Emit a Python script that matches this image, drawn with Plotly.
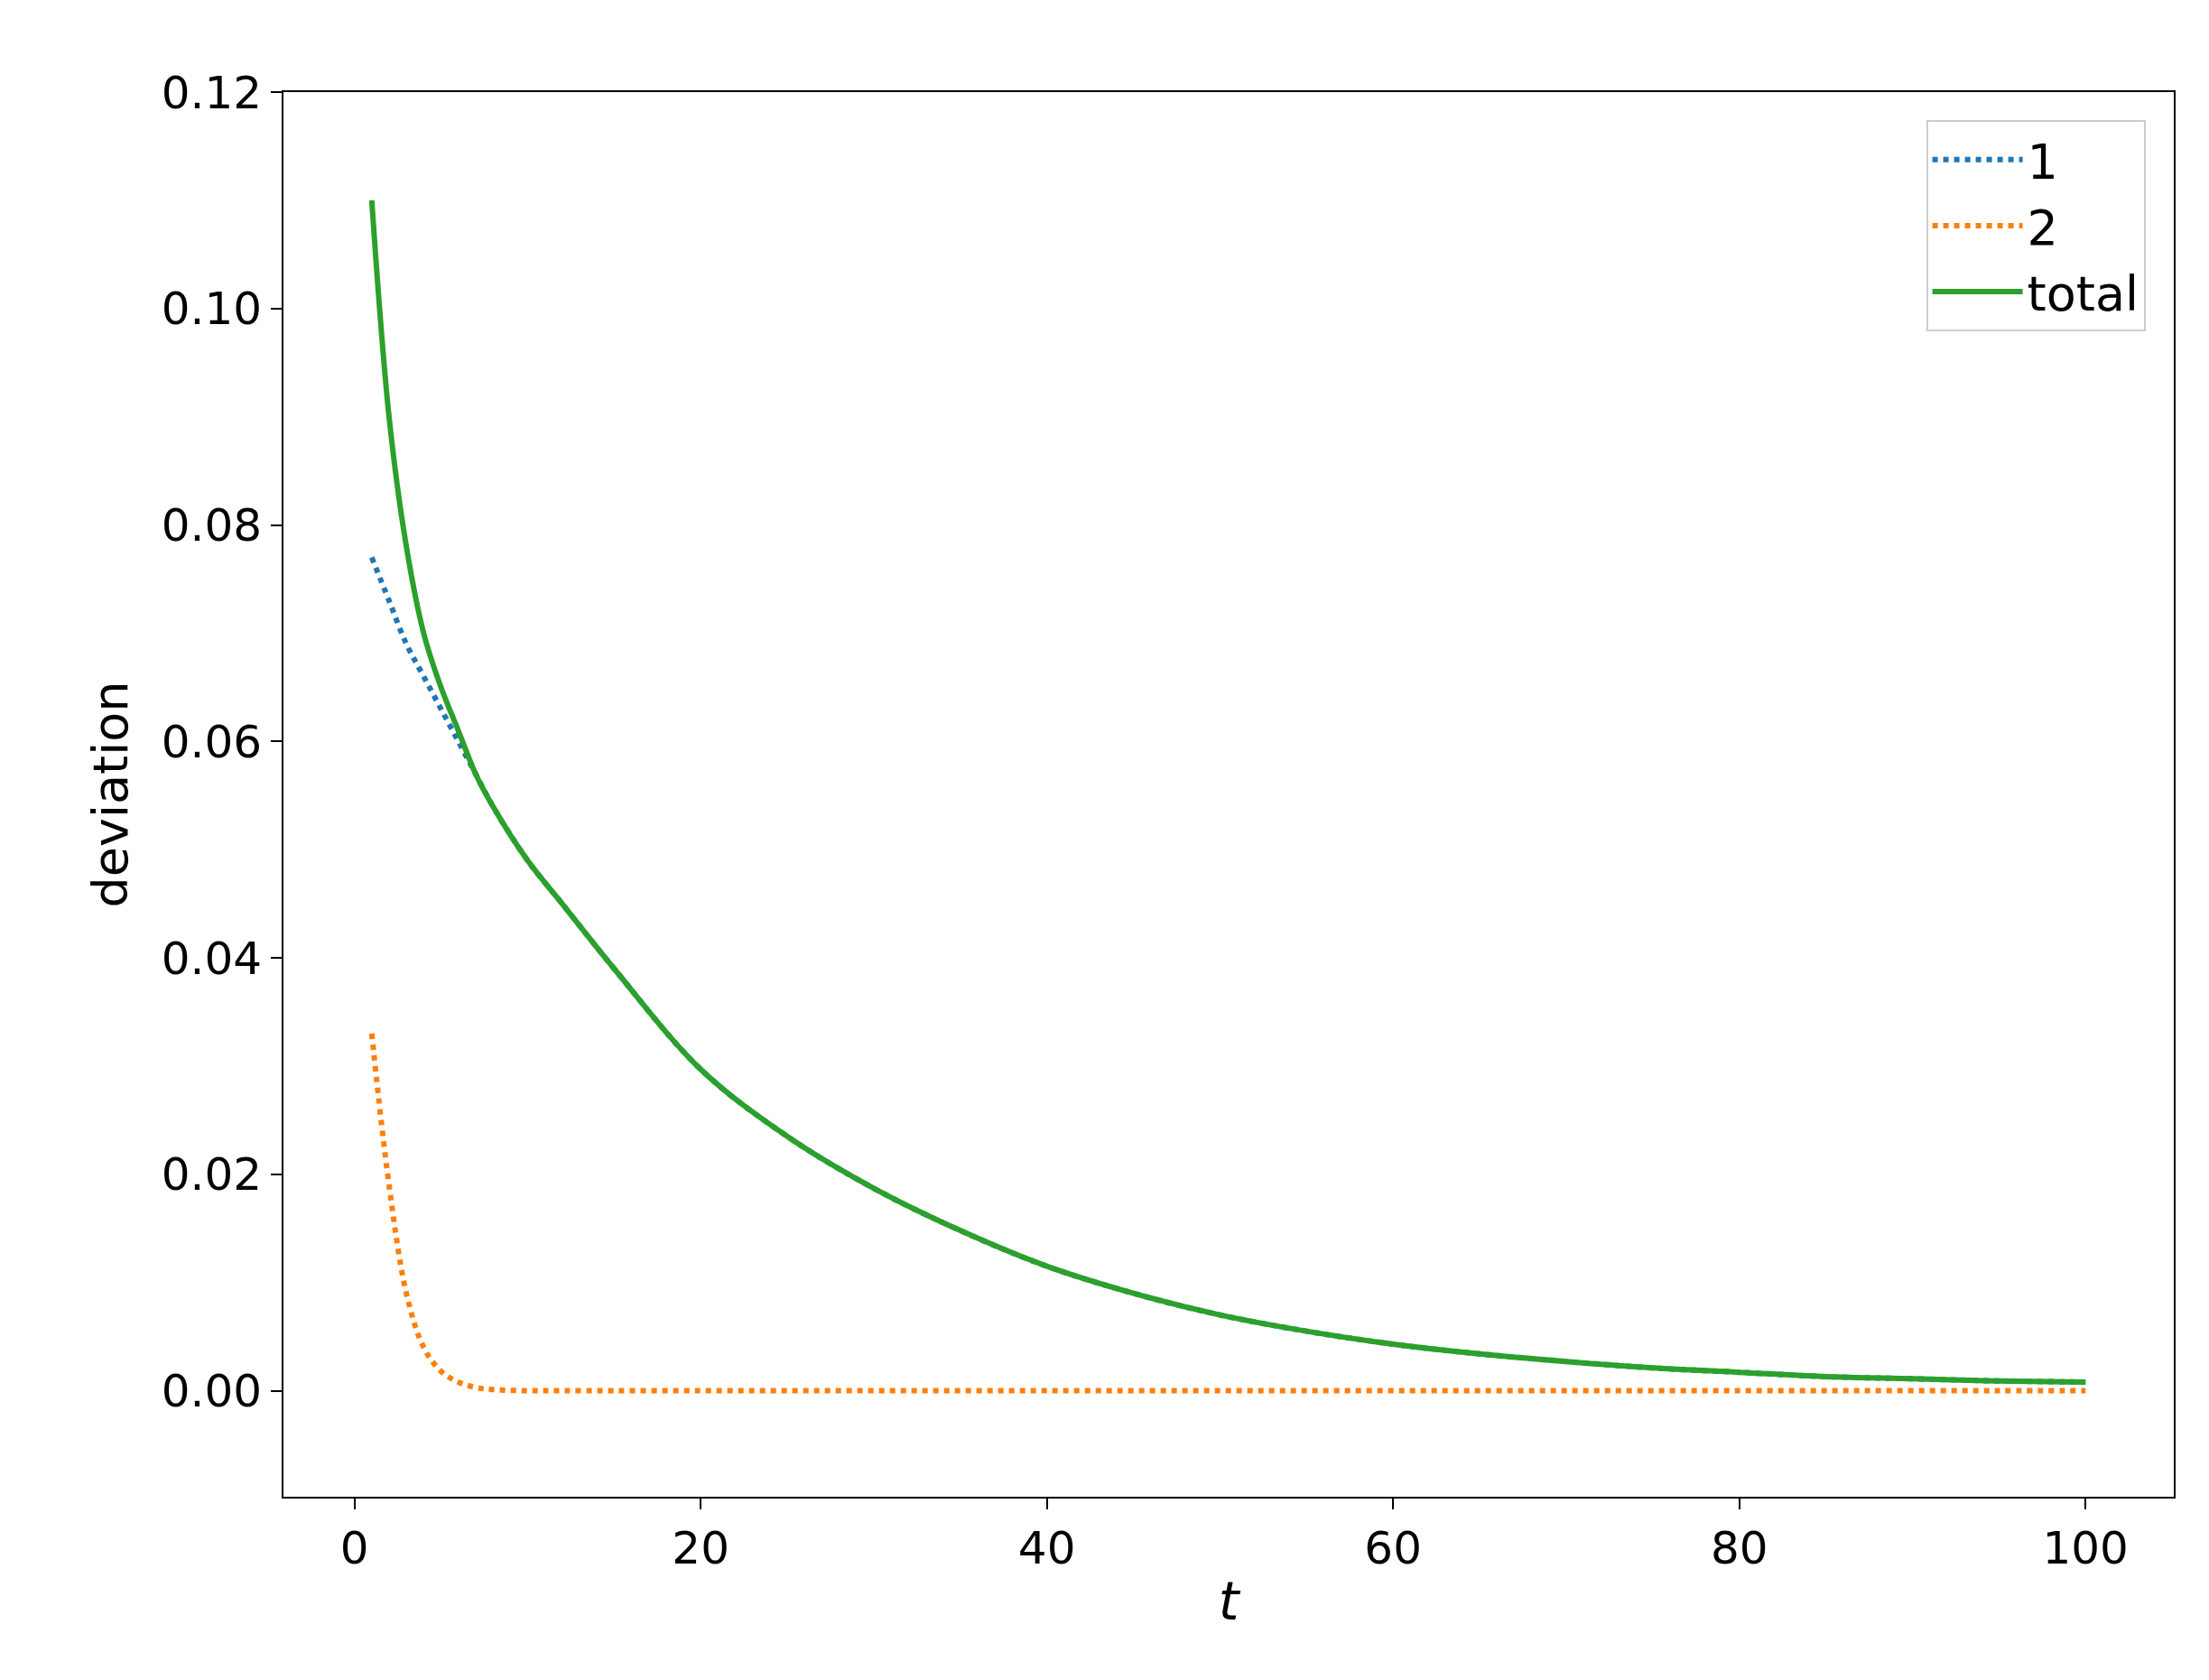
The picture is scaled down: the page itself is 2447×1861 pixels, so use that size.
import plotly.graph_objects as go

t = [1, 2, 3, 4, 5, 6, 7, 8, 10, 12, 15, 20, 25, 30, 35, 40, 45, 50, 55, 60,
     65, 70, 75, 80, 85, 90, 95, 100]
total = [0.110, 0.090, 0.078, 0.070, 0.065, 0.061, 0.057, 0.054, 0.049, 0.045,
         0.039, 0.0297, 0.0235, 0.0187, 0.0148, 0.0115, 0.0090, 0.0070, 0.0055,
         0.0043, 0.0034, 0.0027, 0.0021, 0.0017, 0.0013, 0.0011, 0.0009, 0.0008]
dev1 = [0.077, 0.073, 0.069, 0.066, 0.063, 0.060, 0.057, 0.054] + total[8:]
dev2 = [0.033, 0.019, 0.009, 0.004, 0.0018, 0.0008, 0.0003, 0.0001] + [0.0] * 20

fig = go.Figure()
fig.add_trace(go.Scatter(x=t, y=dev1, name='1', mode='lines',
                         line=dict(color='#1f77b4', width=6, dash='dot', shape='spline')))
fig.add_trace(go.Scatter(x=t, y=dev2, name='2', mode='lines',
                         line=dict(color='#ff7f0e', width=6, dash='dot', shape='spline')))
fig.add_trace(go.Scatter(x=t, y=total, name='total', mode='lines',
                         line=dict(color='#2ca02c', width=6, shape='spline')))

ax = dict(showgrid=False, zeroline=False, showline=True, mirror=True,
          linecolor='black', linewidth=2, ticks='outside', ticklen=12,
          tickwidth=2, tickcolor='black')
fig.update_xaxes(ax, range=[-4.1, 105.1], tickvals=[0, 20, 40, 60, 80, 100],
                 title=dict(text='<i>t</i>', font=dict(size=58), standoff=10))
fig.update_yaxes(ax, range=[-0.0098, 0.12],
                 tickvals=[0, 0.02, 0.04, 0.06, 0.08, 0.10, 0.12],
                 tickformat='.2f', title=dict(text='deviation', font=dict(size=54), standoff=20))
fig.update_layout(
    width=2447, height=1861, plot_bgcolor='white', paper_bgcolor='white',
    margin=dict(l=306, r=47, t=94, b=211),
    font=dict(family='DejaVu Sans', size=50, color='black'),
    legend=dict(x=0.985, y=0.98, xanchor='right', yanchor='top',
                bordercolor='#cccccc', borderwidth=2, bgcolor='white',
                font=dict(size=54), itemwidth=100),
)
fig.write_html("out.html")
